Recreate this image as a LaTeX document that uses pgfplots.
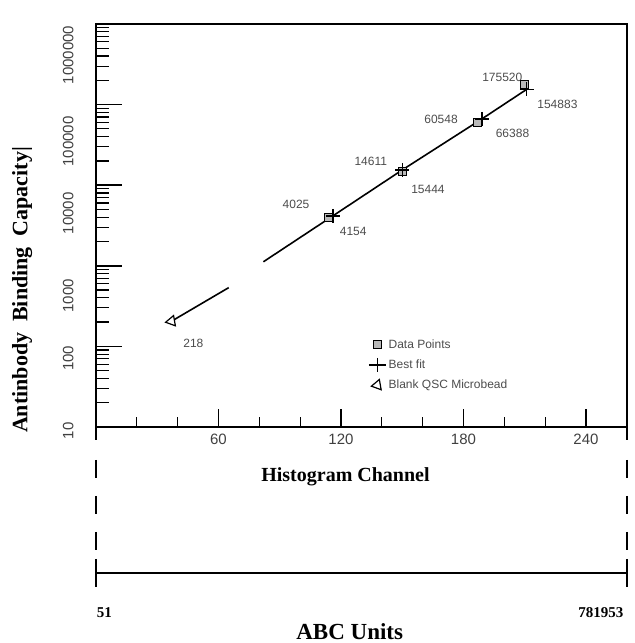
\documentclass[border=0pt]{standalone}
\usepackage{fontspec}
\setmainfont{Liberation Sans}
\newfontfamily\tnr{Liberation Serif}
\usepackage{pgfplots}
\pgfplotsset{compat=1.18}

\begin{document}
\begin{tikzpicture}
\begin{axis}[
  scale only axis, width=531pt, height=403pt,
  xmin=0, xmax=260, ymin=10, ymax=1000000, ymode=log,
  clip=false,
  axis line style={line width=1.8pt},
  tick pos=left, tick align=inside,
  major tick length=26pt, minor tick length=13pt,
  major tick style={line width=1.6pt, black},
  minor tick style={line width=1.2pt, black},
  xtick style={/pgfplots/major tick length=18pt, /pgfplots/minor tick length=10pt},
  xtick={60,120,180,240}, xticklabels={60,120,180,240},
  minor xtick={20,40,80,100,140,160,200,220},
  ytick={10,100,1000,10000,100000,1000000},
  % labels sit a little below their ticks, as in the scan
  yticklabels={\makebox[0pt]{\kern-8pt 10}, \makebox[0pt]{\kern-24pt 100},
    \makebox[0pt]{\kern-60pt 1000}, \makebox[0pt]{\kern-56pt 10000},
    \makebox[0pt]{\kern-74pt 100000}, \makebox[0pt]{\kern-62pt 1000000}},
  minor ytick={20,30,40,50,60,70,80,90,
    200,300,400,500,600,700,800,900,
    2000,3000,4000,5000,6000,7000,8000,9000,
    20000,30000,40000,50000,60000,70000,80000,90000,
    200000,300000,400000,500000,600000,700000,800000,900000},
  yticklabel style={rotate=90, anchor=south, font=\fontsize{15}{18}\selectfont, color=black!75},
  yticklabel shift=19pt,
  xticklabel style={font=\fontsize{15}{18}\selectfont, color=black!75},
  xticklabel shift=4pt,
  xlabel={Histogram Channel},
  xlabel style={at={(axis description cs:0.47,-0.124)}, anchor=center, font=\tnr\bfseries\fontsize{20}{24}\selectfont},
  ylabel={Antinbody\ \ Binding\ \ Capacity|},
  ylabel style={at={(axis description cs:-0.139,0.34)}, anchor=center, font=\tnr\bfseries\fontsize{22}{26}\selectfont},
  legend style={at={(rel axis cs:0.512,0.222)}, anchor=north west, draw=none, fill=none,
    font=\fontsize{12}{14}\selectfont\color{black!70}, row sep=6pt, inner sep=0pt},
  legend cell align=left,
]
% fit line segments (with the gap of the original)
\addplot[black, line width=1.6pt, forget plot] coordinates {(37,205) (65,535)};
\addplot[black, line width=1.6pt, forget plot] coordinates {(82,1120) (116,4154)};

\addplot[only marks, mark=square*, mark size=4pt,
  mark options={fill=gray!55, draw=black, line width=1pt}] coordinates {
  (114,4025) (150,14611) (187,60548) (210,175520)
};
\addlegendentry{Data Points}

\addplot[black, line width=1.6pt, mark=+, mark size=7pt, mark options={line width=1.4pt}] coordinates {
  (116,4154) (150,15444) (189,66388) (211,154883)
};
\addlegendentry{Best fit}

\addplot[only marks, mark=triangle*, mark size=6pt,
  mark options={rotate=100, fill=white, draw=black, line width=1.2pt}] coordinates {(37,205)};
\addlegendentry{Blank QSC Microbead}

% value labels
\begin{scope}[every node/.style={font=\fontsize{12}{14}\selectfont, color=black!70}]
\node at (axis cs:199,220000) {175520};
\node at (axis cs:226,100000) {154883};
\node at (axis cs:169,65000) {60548};
\node at (axis cs:204,44000) {66388};
\node at (axis cs:134.6,19800) {14611};
\node at (axis cs:162.6,8900) {15444};
\node at (axis cs:98,5820) {4025};
\node at (axis cs:126,2630) {4154};
\node at (axis cs:47.7,109) {218};
\end{scope}

% second scale (ABC units)
\draw[line width=1.8pt] (rel axis cs:0,0) -- (rel axis cs:0,-0.032);
\draw[line width=1.8pt] (rel axis cs:1,0) -- (rel axis cs:1,-0.032);
\draw[line width=1.8pt, dash pattern=on 18pt off 18pt] (rel axis cs:0,-0.082) -- (rel axis cs:0,-0.31);
\draw[line width=1.8pt, dash pattern=on 18pt off 18pt] (rel axis cs:1,-0.082) -- (rel axis cs:1,-0.31);
\draw[line width=1.8pt] (rel axis cs:0,-0.3275) -- (rel axis cs:0,-0.397);
\draw[line width=1.8pt] (rel axis cs:1,-0.3275) -- (rel axis cs:1,-0.397);
\draw[line width=1.8pt] (rel axis cs:0,-0.362) -- (rel axis cs:1,-0.362);
\node[anchor=west, font=\tnr\bfseries\fontsize{15}{18}\selectfont] at (rel axis cs:-0.005,-0.4615) {51};
\node[anchor=east, font=\tnr\bfseries\fontsize{15}{18}\selectfont] at (rel axis cs:1.0,-0.4615) {781953};
\node[font=\tnr\bfseries\fontsize{23}{27}\selectfont] at (rel axis cs:0.478,-0.508) {ABC Units};

\path (rel axis cs:-0.1808,1.0596) rectangle (rel axis cs:1.015,-0.536);
\end{axis}
\end{tikzpicture}
\end{document}
